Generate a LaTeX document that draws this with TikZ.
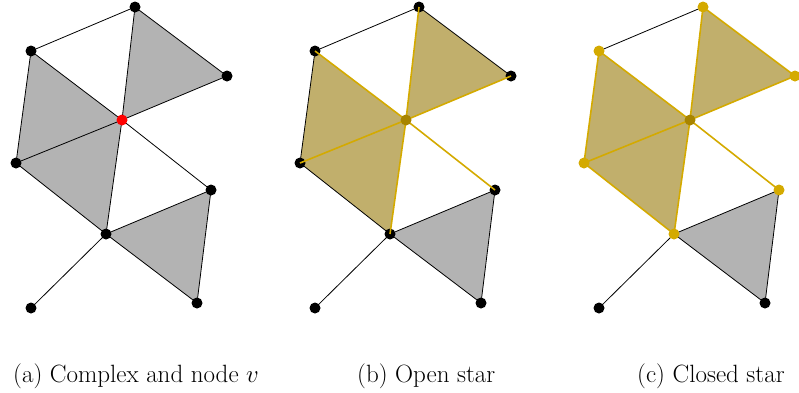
\documentclass[tikz,border=0pt]{standalone}
\usepackage{fontspec}
\definecolor{goldline}{RGB}{212,170,0}
\definecolor{goldfill}{RGB}{193,175,108}
\definecolor{goldcenter}{RGB}{168,132,0}
\definecolor{grayfill}{RGB}{179,179,179}
\begin{document}
\begin{tikzpicture}[x=1pt,y=-1pt,
  blackedge/.style={draw=black,line width=0.8pt},
  goldedge/.style={draw=goldline,line width=1.6pt},
  grayface/.style={fill=grayfill},
  goldface/.style={fill=goldfill},
  vdot/.style={circle,fill=black,inner sep=0pt,minimum size=11pt},
  golddot/.style={vdot,fill=goldline},
  centerdot/.style={vdot,fill=goldcenter},
  reddot/.style={vdot,fill=red},
  caption/.style={anchor=base west,inner sep=0pt,font=\fontsize{25}{30}\selectfont}]
\useasboundingbox (0,0) rectangle (799,392);
\foreach \p/\o in {a/0,b/284,c/568}{
  \coordinate (\p-T) at (135+\o,7);
  \coordinate (\p-UL) at (31+\o,51);
  \coordinate (\p-R) at (227+\o,76);
  \coordinate (\p-C) at (122+\o,120);
  \coordinate (\p-L) at (16+\o,163);
  \coordinate (\p-RM) at (211+\o,190);
  \coordinate (\p-LC) at (106+\o,234);
  \coordinate (\p-BL) at (31+\o,308);
  \coordinate (\p-BR) at (197+\o,303);
}
% panel a
\fill[grayface] (a-T) -- (a-C) -- (a-R) -- cycle;
\fill[grayface] (a-UL) -- (a-C) -- (a-L) -- cycle;
\fill[grayface] (a-L) -- (a-C) -- (a-LC) -- cycle;
\fill[grayface] (a-LC) -- (a-RM) -- (a-BR) -- cycle;
\foreach \u/\v in {T/UL,T/C,T/R,R/C,UL/C,UL/L,L/C,L/LC,C/LC,C/RM,LC/RM,RM/BR,LC/BR,LC/BL}
  \draw[blackedge] (a-\u) -- (a-\v);
\foreach \v in {T,UL,R,L,RM,LC,BL,BR} \node[vdot] (na-\v) at (a-\v) {};
\node[reddot] (na-C) at (a-C) {};
% panel b
\fill[goldface] (b-T) -- (b-C) -- (b-R) -- cycle;
\fill[goldface] (b-UL) -- (b-C) -- (b-L) -- cycle;
\fill[goldface] (b-L) -- (b-C) -- (b-LC) -- cycle;
\fill[grayface] (b-LC) -- (b-RM) -- (b-BR) -- cycle;
\foreach \u/\v in {T/UL,T/R,UL/L,L/LC,LC/RM,RM/BR,LC/BR,LC/BL}
  \draw[blackedge] (b-\u) -- (b-\v);
\foreach \v in {T,UL,R,L,RM,LC,BL,BR} \node[vdot] (nb-\v) at (b-\v) {};
\foreach \v in {T,R,UL,L,LC,RM}
  \draw[goldedge] (b-C) -- (b-\v);
\node[centerdot] (nb-C) at (b-C) {};
% panel c
\fill[goldface] (c-T) -- (c-C) -- (c-R) -- cycle;
\fill[goldface] (c-UL) -- (c-C) -- (c-L) -- cycle;
\fill[goldface] (c-L) -- (c-C) -- (c-LC) -- cycle;
\fill[grayface] (c-LC) -- (c-RM) -- (c-BR) -- cycle;
\foreach \u/\v in {T/UL,LC/RM,RM/BR,LC/BR,LC/BL}
  \draw[blackedge] (c-\u) -- (c-\v);
\foreach \u/\v in {C/T,C/R,C/UL,C/L,C/LC,C/RM,T/R,UL/L,L/LC}
  \draw[goldedge] (c-\u) -- (c-\v);
\foreach \v in {T,UL,R,L,RM,LC} \node[golddot] (nc-\v) at (c-\v) {};
\foreach \v in {BL,BR} \node[vdot] (nc-\v) at (c-\v) {};
\node[centerdot] (nc-C) at (c-C) {};
% captions
\node[caption] (capa) at (13,382) {(a) Complex and node $v$};
\node[caption] (capb) at (357,382) {(b) Open star};
\node[caption] (capc) at (637,382) {(c) Closed star};
\end{tikzpicture}
\end{document}
